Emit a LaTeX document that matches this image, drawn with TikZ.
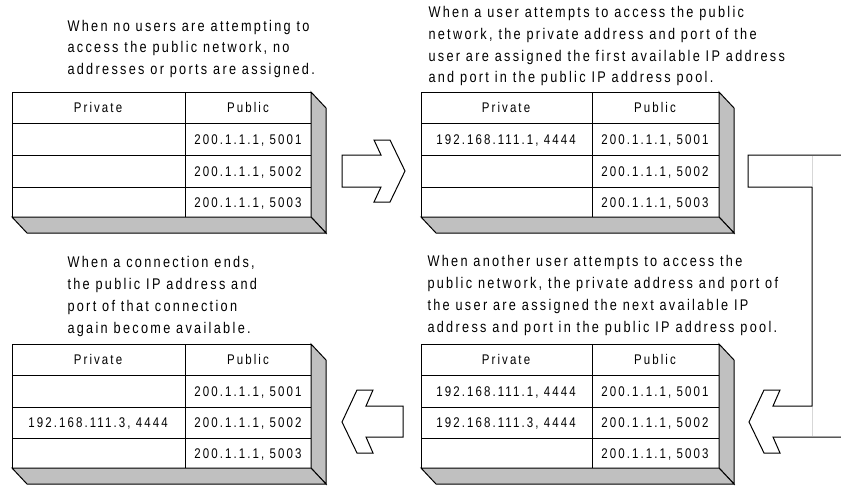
\documentclass[tikz,border=0pt]{standalone}
\usepackage{fontspec}
\setmainfont{Liberation Sans}
\newfontfamily\natfont[FakeStretch=0.82,LetterSpace=15]{Liberation Sans}
\definecolor{facegray}{RGB}{192,192,192}
\definecolor{seamgray}{RGB}{215,215,215}

\tikzset{every picture/.style={line width=0.75pt}}
\tikzset{
  cell/.style={anchor=base, inner sep=0.75pt, font=\natfont\fontsize{10.5}{12}\selectfont},
  note/.style={anchor=base west, inner sep=0pt, align=left, font=\natfont\fontsize{11.6}{16.3}\selectfont},
  face/.style={fill=facegray},
  blockarrow/.style={fill=white, line join=miter},
}

\begin{document}
\begin{tikzpicture}[x=0.75pt,y=0.75pt,yscale=-1,xscale=1]
\useasboundingbox (0,0) rectangle (841,485);
\clip (0,0) rectangle (841,485);

%Shape: Rectangle [id:tabA]
\draw (12,92) -- (311,92) -- (311,217) -- (12,217) -- cycle ;
%Shape: Polygon [id:tabAside]
\draw [face] (311,92) -- (326,108) -- (326,233) -- (311,217) -- cycle ;
%Shape: Polygon [id:tabAbottom]
\draw [face] (12,217) -- (311,217) -- (326,233) -- (27,233) -- cycle ;
%Straight Lines [id:tabAgrid]
\draw (185,92) -- (185,217) ;
\draw (12,123) -- (311,123) ;
\draw (12,155) -- (311,155) ;
\draw (12,187) -- (311,187) ;

%Shape: Rectangle [id:tabB]
\draw (421,92) -- (719,92) -- (719,217) -- (421,217) -- cycle ;
%Shape: Polygon [id:tabBside]
\draw [face] (719,92) -- (734,108) -- (734,233) -- (719,217) -- cycle ;
%Shape: Polygon [id:tabBbottom]
\draw [face] (421,217) -- (719,217) -- (734,233) -- (436,233) -- cycle ;
%Straight Lines [id:tabBgrid]
\draw (592,92) -- (592,217) ;
\draw (421,123) -- (719,123) ;
\draw (421,155) -- (719,155) ;
\draw (421,187) -- (719,187) ;

%Shape: Rectangle [id:tabC]
\draw (421,344) -- (719,344) -- (719,468) -- (421,468) -- cycle ;
%Shape: Polygon [id:tabCside]
\draw [face] (719,344) -- (734,360) -- (734,484) -- (719,468) -- cycle ;
%Shape: Polygon [id:tabCbottom]
\draw [face] (421,468) -- (719,468) -- (734,484) -- (436,484) -- cycle ;
%Straight Lines [id:tabCgrid]
\draw (592,344) -- (592,468) ;
\draw (421,375) -- (719,375) ;
\draw (421,407) -- (719,407) ;
\draw (421,438) -- (719,438) ;

%Shape: Rectangle [id:tabD]
\draw (12,344) -- (311,344) -- (311,468) -- (12,468) -- cycle ;
%Shape: Polygon [id:tabDside]
\draw [face] (311,344) -- (326,360) -- (326,484) -- (311,468) -- cycle ;
%Shape: Polygon [id:tabDbottom]
\draw [face] (12,468) -- (311,468) -- (326,484) -- (27,484) -- cycle ;
%Straight Lines [id:tabDgrid]
\draw (185,344) -- (185,468) ;
\draw (12,375) -- (311,375) ;
\draw (12,407) -- (311,407) ;
\draw (12,438) -- (311,438) ;

%Shape: Right Arrow [id:arrAB]
\draw [blockarrow] (342,155) -- (381,155) -- (374,140) -- (390,140) -- (405,171) -- (390,202) -- (374,202) -- (381,187) -- (342,187) -- cycle ;
%Shape: Bent Arrow [id:arrBC]
\draw [blockarrow] (748,155) -- (845,155) -- (845,437) -- (773,437) -- (780,453) -- (764,453) -- (749,422) -- (764,390) -- (780,390) -- (773,406) -- (812,406) -- (812,187) -- (748,187) -- cycle ;
\draw [seamgray] (812,156) -- (812,186) ;
\draw [seamgray] (812,407) -- (812,436) ;
%Shape: Left Arrow [id:arrCD]
\draw [blockarrow] (403,406) -- (366,406) -- (373,390) -- (357,390) -- (342,422) -- (357,453) -- (373,453) -- (366,437) -- (403,437) -- cycle ;

% Text Node
\draw (67,74.5) node [note] (noteA) {When no users are attempting to\\access the public network, no\\addresses or ports are assigned.};
% Text Node
\draw (428,83) node [note] (noteB) {When a user attempts to access the public\\network, the private address and port of the\\user are assigned the first available IP address\\and port in the public IP address pool.};
% Text Node
\draw (67,333) node [note] (noteD) {When a connection ends,\\the public IP address and\\port of that connection\\again become available.};
% Text Node
\draw (427,332) node [note] (noteC) {When another user attempts to access the\\public network, the private address and port of\\the user are assigned the next available IP\\address and port in the public IP address pool.};

% Text Node
\draw (98,112.5) node [cell] (privA) {Private};
\draw (248,112.5) node [cell] (pubA) {Public};
\draw (248,144.5) node [cell] (pubA1) {200.1.1.1, 5001};
\draw (248,176.5) node [cell] (pubA2) {200.1.1.1, 5002};
\draw (248,207.5) node [cell] (pubA3) {200.1.1.1, 5003};

% Text Node
\draw (506,112.5) node [cell] (privB) {Private};
\draw (655,112.5) node [cell] (pubB) {Public};
\draw (506,144.5) node [cell] (privB1) {192.168.111.1, 4444};
\draw (655,144.5) node [cell] (pubB1) {200.1.1.1, 5001};
\draw (655,176.5) node [cell] (pubB2) {200.1.1.1, 5002};
\draw (655,207.5) node [cell] (pubB3) {200.1.1.1, 5003};

% Text Node
\draw (506,364.5) node [cell] (privC) {Private};
\draw (655,364.5) node [cell] (pubC) {Public};
\draw (506,396) node [cell] (privC1) {192.168.111.1, 4444};
\draw (655,396) node [cell] (pubC1) {200.1.1.1, 5001};
\draw (506,427.5) node [cell] (privC2) {192.168.111.3, 4444};
\draw (655,427.5) node [cell] (pubC2) {200.1.1.1, 5002};
\draw (655,458) node [cell] (pubC3) {200.1.1.1, 5003};

% Text Node
\draw (98,364.5) node [cell] (privD) {Private};
\draw (248,364.5) node [cell] (pubD) {Public};
\draw (248,396) node [cell] (pubD1) {200.1.1.1, 5001};
\draw (98,427.5) node [cell] (privD2) {192.168.111.3, 4444};
\draw (248,427.5) node [cell] (pubD2) {200.1.1.1, 5002};
\draw (248,458) node [cell] (pubD3) {200.1.1.1, 5003};
\end{tikzpicture}
\end{document}
